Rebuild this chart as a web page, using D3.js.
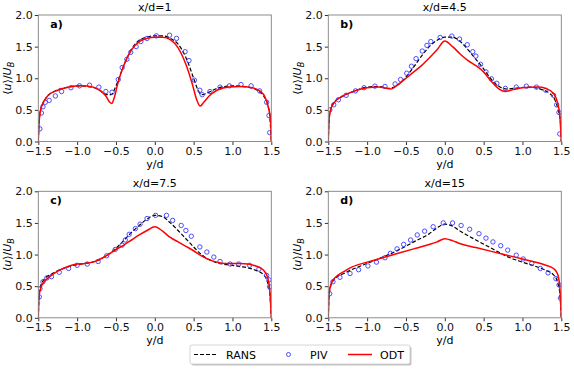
<!DOCTYPE html>
<html>
<head>
<meta charset="utf-8">
<script src="https://cdn.jsdelivr.net/npm/d3@7"></script>
<style>
  body { margin: 0; background: #fff; }
  text { font-family: "DejaVu Sans", sans-serif; }
</style>
</head>
<body>
<script>
// panel titles and labels
var titles = ["x/d=1", "x/d=4.5", "x/d=7.5", "x/d=15"];
var tags = ["a)", "b)", "c)", "d)"];
var xTicks = [-1.5, -1.0, -0.5, 0.0, 0.5, 1.0, 1.5];
var yTicks = [0.0, 0.5, 1.0, 1.5, 2.0];

// RANS (dashed black) : [y/d, u/UB]
var ransA = [[-1.5,0],[-1.49,0.3],[-1.47,0.5],[-1.44,0.6],[-1.4,0.69],[-1.3,0.79],[-1.15,0.85],[-1.0,0.88],[-0.85,0.87],[-0.72,0.82],[-0.62,0.74],[-0.56,0.74],[-0.5,0.88],[-0.4,1.2],[-0.3,1.46],[-0.2,1.6],[-0.1,1.65],[0,1.67],[0.1,1.67],[0.2,1.63],[0.3,1.54],[0.4,1.33],[0.5,1.0],[0.55,0.83],[0.6,0.74],[0.7,0.78],[0.8,0.84],[1.0,0.88],[1.2,0.86],[1.32,0.81],[1.4,0.72],[1.45,0.6],[1.48,0.4],[1.5,0]];
var ransB = [[-1.5,0],[-1.49,0.35],[-1.47,0.5],[-1.44,0.6],[-1.35,0.69],[-1.2,0.78],[-1.0,0.86],[-0.85,0.87],[-0.72,0.84],[-0.6,0.9],[-0.5,1.02],[-0.4,1.18],[-0.3,1.35],[-0.2,1.5],[-0.1,1.6],[0,1.65],[0.1,1.65],[0.2,1.58],[0.3,1.45],[0.4,1.3],[0.5,1.15],[0.6,0.98],[0.7,0.87],[0.8,0.83],[0.95,0.85],[1.1,0.86],[1.25,0.82],[1.35,0.76],[1.42,0.65],[1.46,0.5],[1.49,0.3],[1.5,0]];
var ransC = [[-1.5,0],[-1.49,0.35],[-1.47,0.5],[-1.43,0.6],[-1.3,0.71],[-1.2,0.77],[-1.0,0.84],[-0.9,0.86],[-0.8,0.88],[-0.7,0.93],[-0.6,1.0],[-0.5,1.1],[-0.4,1.22],[-0.3,1.35],[-0.2,1.46],[-0.1,1.56],[0,1.62],[0.1,1.6],[0.2,1.5],[0.3,1.38],[0.4,1.25],[0.5,1.12],[0.6,1.0],[0.7,0.92],[0.8,0.87],[1.0,0.83],[1.1,0.81],[1.2,0.79],[1.3,0.75],[1.4,0.68],[1.45,0.57],[1.48,0.4],[1.5,0]];
var ransD = [[-1.5,0],[-1.49,0.35],[-1.47,0.5],[-1.43,0.6],[-1.3,0.7],[-1.2,0.76],[-1.0,0.86],[-0.8,0.96],[-0.6,1.07],[-0.4,1.2],[-0.2,1.33],[-0.1,1.42],[0,1.48],[0.1,1.45],[0.2,1.37],[0.4,1.23],[0.6,1.1],[0.8,0.97],[1.0,0.88],[1.2,0.8],[1.3,0.75],[1.4,0.68],[1.45,0.57],[1.48,0.4],[1.5,0]];

// PIV (blue circles)
var pivA = [[-1.48,0.2],[-1.46,0.45],[-1.44,0.55],[-1.41,0.62],[-1.36,0.65],[-1.28,0.72],[-1.2,0.79],[-1.08,0.85],[-0.97,0.88],[-0.84,0.89],[-0.72,0.86],[-0.63,0.79],[-0.55,0.78],[-0.47,0.98],[-0.42,1.17],[-0.36,1.3],[-0.31,1.41],[-0.24,1.5],[-0.18,1.58],[-0.1,1.63],[0.02,1.67],[0.19,1.68],[0.28,1.63],[0.39,1.42],[0.44,1.28],[0.51,0.97],[0.58,0.81],[0.61,0.74],[0.71,0.79],[0.84,0.86],[0.96,0.88],[1.11,0.9],[1.24,0.88],[1.35,0.8],[1.44,0.62],[1.47,0.41],[1.48,0.14]];
var pivB = [[-1.48,0.5],[-1.43,0.58],[-1.37,0.66],[-1.27,0.73],[-1.15,0.8],[-1.04,0.85],[-0.9,0.875],[-0.77,0.87],[-0.64,0.91],[-0.57,0.98],[-0.49,1.08],[-0.43,1.19],[-0.37,1.31],[-0.29,1.43],[-0.23,1.52],[-0.18,1.58],[-0.06,1.645],[0.09,1.666],[0.19,1.62],[0.29,1.53],[0.36,1.42],[0.4,1.35],[0.46,1.22],[0.53,1.1],[0.6,0.99],[0.67,0.92],[0.78,0.84],[0.92,0.86],[1.05,0.875],[1.18,0.86],[1.3,0.81],[1.4,0.73],[1.44,0.58],[1.47,0.46],[1.48,0.12]];
var pivC = [[-1.487,0.33],[-1.478,0.46],[-1.44,0.57],[-1.39,0.63],[-1.33,0.65],[-1.23,0.72],[-1.11,0.78],[-1.0,0.83],[-0.87,0.85],[-0.73,0.89],[-0.62,0.98],[-0.51,1.08],[-0.42,1.15],[-0.38,1.23],[-0.33,1.32],[-0.25,1.41],[-0.19,1.48],[-0.1,1.57],[0.01,1.62],[0.15,1.62],[0.23,1.54],[0.34,1.46],[0.4,1.38],[0.47,1.29],[0.58,1.12],[0.67,1.04],[0.76,0.96],[0.84,0.89],[0.97,0.85],[1.08,0.85],[1.22,0.83],[1.34,0.77],[1.44,0.67],[1.47,0.6],[1.478,0.49]];
var pivD = [[-1.483,0.38],[-1.44,0.57],[-1.35,0.64],[-1.22,0.7],[-1.11,0.76],[-0.99,0.82],[-0.88,0.88],[-0.77,0.95],[-0.7,1.02],[-0.615,1.09],[-0.53,1.16],[-0.44,1.23],[-0.355,1.31],[-0.26,1.37],[-0.15,1.44],[-0.02,1.5],[0.1,1.5],[0.21,1.46],[0.32,1.4],[0.44,1.33],[0.53,1.26],[0.62,1.2],[0.72,1.14],[0.81,1.07],[0.92,0.99],[1.01,0.93],[1.12,0.86],[1.23,0.78],[1.33,0.71],[1.43,0.62],[1.47,0.52],[1.49,0.31]];

// ODT (red line)
var odtA = [[-1.5,0],[-1.49,0.3],[-1.47,0.5],[-1.43,0.63],[-1.38,0.72],[-1.25,0.81],[-1.1,0.86],[-0.95,0.88],[-0.8,0.86],[-0.7,0.8],[-0.63,0.72],[-0.58,0.62],[-0.555,0.6],[-0.52,0.7],[-0.48,0.9],[-0.4,1.2],[-0.3,1.45],[-0.2,1.58],[-0.1,1.63],[0,1.65],[0.1,1.65],[0.2,1.61],[0.3,1.48],[0.4,1.22],[0.48,0.92],[0.54,0.66],[0.585,0.56],[0.63,0.62],[0.7,0.72],[0.8,0.81],[0.95,0.86],[1.1,0.87],[1.25,0.85],[1.35,0.8],[1.42,0.7],[1.46,0.55],[1.49,0.35],[1.5,0]];
var odtB = [[-1.5,0],[-1.49,0.35],[-1.47,0.5],[-1.42,0.62],[-1.3,0.73],[-1.2,0.78],[-1.0,0.85],[-0.85,0.86],[-0.75,0.84],[-0.7,0.83],[-0.6,0.9],[-0.5,1.0],[-0.4,1.1],[-0.3,1.2],[-0.2,1.32],[-0.1,1.45],[0,1.59],[0.1,1.5],[0.2,1.38],[0.3,1.28],[0.4,1.2],[0.5,1.1],[0.6,0.95],[0.7,0.83],[0.78,0.79],[0.85,0.81],[1.0,0.85],[1.2,0.86],[1.3,0.84],[1.4,0.76],[1.45,0.62],[1.48,0.42],[1.5,0]];
var odtC = [[-1.5,0],[-1.49,0.35],[-1.46,0.5],[-1.4,0.6],[-1.3,0.7],[-1.2,0.77],[-1.1,0.82],[-1.0,0.85],[-0.9,0.86],[-0.8,0.88],[-0.7,0.93],[-0.6,1.0],[-0.5,1.08],[-0.4,1.15],[-0.3,1.23],[-0.2,1.31],[-0.1,1.38],[0,1.44],[0.1,1.37],[0.2,1.27],[0.3,1.2],[0.4,1.13],[0.5,1.06],[0.6,0.98],[0.7,0.92],[0.8,0.88],[0.9,0.86],[1.1,0.86],[1.2,0.85],[1.3,0.82],[1.4,0.75],[1.45,0.65],[1.48,0.45],[1.5,0]];
var odtD = [[-1.5,0],[-1.49,0.38],[-1.46,0.55],[-1.4,0.65],[-1.3,0.73],[-1.2,0.8],[-1.0,0.88],[-0.8,0.95],[-0.6,1.02],[-0.4,1.09],[-0.2,1.16],[-0.1,1.2],[0,1.25],[0.1,1.22],[0.2,1.17],[0.4,1.11],[0.6,1.05],[0.8,0.99],[1.0,0.93],[1.2,0.87],[1.3,0.83],[1.4,0.78],[1.45,0.7],[1.48,0.5],[1.5,0]];

var rans = [ransA, ransB, ransC, ransD];
var piv = [pivA, pivB, pivC, pivD];
var odt = [odtA, odtB, odtC, odtD];

var W = 574, H = 369;
var svg = d3.select("body").append("svg")
            .attr("width", W)
            .attr("height", H);

// panel boxes (left, top)
var pw = 233, ph = 126.5;
var boxes = [[38.3, 15], [328.3, 15], [38.3, 191.3], [328.3, 191.3]];

boxes.forEach(function(b, k){
  var x = d3.scaleLinear().domain([-1.5, 1.5]).range([0, pw]);
  var y = d3.scaleLinear().domain([0, 2]).range([ph, 0]);

  var g = svg.append("g").attr("transform", "translate(" + b[0] + "," + b[1] + ")");

  var fmt = function(d){ return d3.format(".1f")(d).replace("-", "\u2212"); };

  var xa = g.append("g").attr("transform", "translate(0," + ph + ")")
            .call(d3.axisBottom(x).tickValues(xTicks).tickFormat(fmt).tickSize(3.5).tickPadding(2));
  var ya = g.append("g")
            .call(d3.axisLeft(y).tickValues(yTicks).tickFormat(fmt).tickSize(3.5).tickPadding(2));
  [xa, ya].forEach(function(a){
    a.select(".domain").remove();
    a.selectAll("line").attr("stroke", "#333");
    a.selectAll("text").attr("font-size", 11).attr("fill", "#111")
     .attr("font-family", "DejaVu Sans, sans-serif");
  });

  var clip = "clip" + k;
  g.append("clipPath").attr("id", clip).append("rect")
   .attr("width", pw).attr("height", ph);

  var line = d3.line()
               .x(function(d){ return x(d[0]); })
               .y(function(d){ return y(d[1]); })
               .curve(d3.curveMonotoneX);

  var plot = g.append("g").attr("clip-path", "url(#" + clip + ")");

  plot.append("path").datum(rans[k])
      .attr("d", line).attr("fill", "none")
      .attr("stroke", "#000").attr("stroke-width", 1.2)
      .attr("stroke-dasharray", "4,2");

  plot.selectAll("circle").data(piv[k]).enter().append("circle")
      .attr("cx", function(d){ return x(d[0]); })
      .attr("cy", function(d){ return y(d[1]); })
      .attr("r", 2.2)
      .attr("fill", "none")
      .attr("stroke", "#3a3aff")
      .attr("stroke-width", 0.9);

  plot.append("path").datum(odt[k])
      .attr("d", line).attr("fill", "none")
      .attr("stroke", "#ff0000").attr("stroke-width", 1.5);

  // frame
  g.append("rect").attr("width", pw).attr("height", ph)
   .attr("fill", "none").attr("stroke", "#808080").attr("stroke-width", 0.9);

  g.append("text").attr("x", pw / 2).attr("y", -4)
   .attr("text-anchor", "middle").attr("font-size", 11)
   .text(titles[k]);

  g.append("text").attr("x", 12).attr("y", 12.5)
   .attr("font-size", 11).attr("font-weight", "bold")
   .text(tags[k]);

  g.append("text").attr("x", pw / 2).attr("y", ph + 26)
   .attr("text-anchor", "middle").attr("font-size", 11)
   .text("y/d");

  var yl = g.append("text")
            .attr("transform", "translate(-27," + (ph / 2) + ") rotate(-90)")
            .attr("text-anchor", "middle").attr("font-size", 11);
  yl.append("tspan").text("\u27E8");
  yl.append("tspan").attr("font-style", "italic").text("u");
  yl.append("tspan").text("\u27E9/");
  yl.append("tspan").attr("font-style", "italic").text("U");
  yl.append("tspan").attr("font-style", "italic").attr("font-size", 8).attr("dy", 2.5).text("B");
});

// legend
var lg = svg.append("g").attr("transform", "translate(190,345)");
lg.append("rect").attr("x", 1.5).attr("y", 1.5).attr("width", 220).attr("height", 19)
  .attr("rx", 2).attr("fill", "#999").attr("opacity", 0.6);
lg.append("rect").attr("width", 220).attr("height", 19).attr("rx", 2)
  .attr("fill", "#fff").attr("stroke", "#ccc").attr("stroke-width", 0.8);
lg.append("line").attr("x1", 4).attr("x2", 26).attr("y1", 9.5).attr("y2", 9.5)
  .attr("stroke", "#000").attr("stroke-width", 1.2).attr("stroke-dasharray", "4,2");
lg.append("text").attr("x", 36).attr("y", 13.5).attr("font-size", 11).text("RANS");
lg.append("circle").attr("cx", 98.5).attr("cy", 9.5).attr("r", 2)
  .attr("fill", "none").attr("stroke", "#3a3aff").attr("stroke-width", 0.9);
lg.append("text").attr("x", 120).attr("y", 13.5).attr("font-size", 11).text("PIV");
lg.append("line").attr("x1", 158).attr("x2", 182).attr("y1", 9.5).attr("y2", 9.5)
  .attr("stroke", "#ff0000").attr("stroke-width", 1.5);
lg.append("text").attr("x", 190).attr("y", 13.5).attr("font-size", 11).text("ODT");
</script>
</body>
</html>
